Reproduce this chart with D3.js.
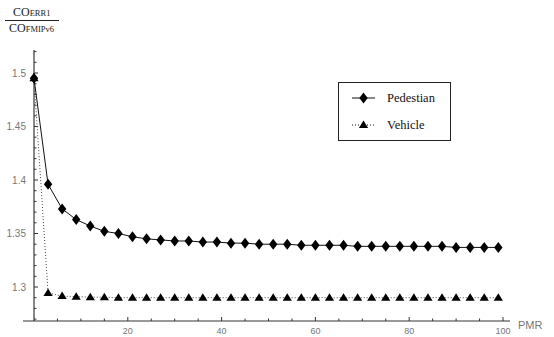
<!DOCTYPE html>
<html>
<head>
<meta charset="utf-8">
<script src="https://cdn.jsdelivr.net/npm/d3@7"></script>
<style>
  body { margin: 0; background: #fff; }
  svg { display: block; }
</style>
</head>
<body>
<div id="chart"></div>
<script>
// PMR sample points
const pmr = [0, 3, 6, 9, 12, 15, 18, 21, 24, 27, 30, 33, 36, 39, 42, 45, 48, 51, 54, 57,
             60, 63, 66, 69, 72, 75, 78, 81, 84, 87, 90, 93, 96, 99];
const pedestrian = [1.495, 1.396, 1.373, 1.363, 1.357, 1.352, 1.350, 1.347, 1.345, 1.344,
                    1.343, 1.343, 1.342, 1.342, 1.341, 1.341, 1.340, 1.340, 1.340, 1.339,
                    1.339, 1.339, 1.339, 1.338, 1.338, 1.338, 1.338, 1.338, 1.338, 1.338,
                    1.337, 1.337, 1.337, 1.337];
const vehicle = [1.495, 1.2945, 1.2915, 1.291, 1.2905, 1.2905, 1.290, 1.290, 1.290, 1.290,
                 1.290, 1.290, 1.290, 1.290, 1.290, 1.290, 1.290, 1.290, 1.290, 1.290,
                 1.290, 1.290, 1.290, 1.290, 1.290, 1.290, 1.290, 1.290, 1.290, 1.290,
                 1.290, 1.290, 1.290, 1.290];
const xTicks = [20, 40, 60, 80, 100];
const yTicks = [1.3, 1.35, 1.4, 1.45, 1.5];
const seriesNames = ["Pedestian", "Vehicle"];

const width = 554, height = 337;

const svg = d3.select('#chart').append('svg')
    .attr('width', width)
    .attr('height', height);

const x = d3.scaleLinear().domain([0, 100]).range([34, 503]);
const y = d3.scaleLinear().domain([1.3, 1.5]).range([287, 73]);

const axisY = 321;
const axisX = x(0);

// x axis
svg.append('line')
    .attr('x1', 23).attr('x2', 510)
    .attr('y1', axisY).attr('y2', axisY)
    .attr('stroke', '#777').attr('stroke-width', 1.5);

d3.range(5, 101, 5).forEach(v => {
    const major = v % 20 === 0;
    svg.append('line')
        .attr('x1', x(v)).attr('x2', x(v))
        .attr('y1', axisY).attr('y2', axisY - (major ? 4 : 2.5))
        .attr('stroke', '#333').attr('stroke-width', 1);
});

svg.selectAll('.xlab').data(xTicks).join('text')
    .attr('class', 'xlab')
    .attr('x', d => x(d))
    .attr('y', 334)
    .attr('text-anchor', 'middle')
    .attr('font-family', 'Liberation Sans, Arial, sans-serif')
    .attr('font-size', 9)
    .attr('fill', '#777')
    .text(d => d);

svg.append('text')
    .attr('x', 518).attr('y', 329)
    .attr('font-family', 'Liberation Sans, Arial, sans-serif')
    .attr('font-size', 11)
    .attr('fill', '#777')
    .text('PMR');

// y axis
svg.append('line')
    .attr('x1', axisX).attr('x2', axisX)
    .attr('y1', 50).attr('y2', axisY)
    .attr('stroke', '#111').attr('stroke-width', 1);

d3.range(1.27, 1.521, 0.01).forEach(v => {
    const major = Math.abs(Math.round(v * 100) % 5) === 0;
    svg.append('line')
        .attr('x1', axisX).attr('x2', axisX + (major ? 4 : 2.5))
        .attr('y1', y(v)).attr('y2', y(v))
        .attr('stroke', '#333').attr('stroke-width', 1);
});

svg.selectAll('.ylab').data(yTicks).join('text')
    .attr('class', 'ylab')
    .attr('x', 26)
    .attr('y', d => y(d) + 3.5)
    .attr('text-anchor', 'end')
    .attr('font-family', 'Liberation Sans, Arial, sans-serif')
    .attr('font-size', 10)
    .attr('fill', '#777')
    .text(d => d);

// y axis title (fraction)
const serif = 'Liberation Serif, Times New Roman, serif';
const num = svg.append('text').attr('x', 13).attr('y', 16)
    .attr('font-family', serif).attr('fill', '#222');
num.append('tspan').attr('font-size', 12).text('CO');
num.append('tspan').attr('font-size', 8.5).text('ERR1');
svg.append('line')
    .attr('x1', 5).attr('x2', 59).attr('y1', 20.5).attr('y2', 20.5)
    .attr('stroke', '#222').attr('stroke-width', 1);
const den = svg.append('text').attr('x', 9).attr('y', 32)
    .attr('font-family', serif).attr('fill', '#222');
den.append('tspan').attr('font-size', 12).text('CO');
den.append('tspan').attr('font-size', 8.5).text('FMIPv6');

// markers
const diamond = 'M0,-5.5L4.2,0L0,5.5L-4.2,0Z';
const triangle = 'M0,-4.5L4.6,3L-4.6,3Z';

const ped = pmr.map((d, i) => [d, pedestrian[i]]);
const veh = pmr.map((d, i) => [d, vehicle[i]]);
const line = d3.line().x(d => x(d[0])).y(d => y(d[1]));

svg.append('path')
    .attr('d', line(veh))
    .attr('fill', 'none')
    .attr('stroke', '#444')
    .attr('stroke-width', 1)
    .attr('stroke-dasharray', '1,2');

svg.append('path')
    .attr('d', line(ped))
    .attr('fill', 'none')
    .attr('stroke', '#111')
    .attr('stroke-width', 1);

svg.selectAll('.vmark').data(veh).join('path')
    .attr('class', 'vmark')
    .attr('d', triangle)
    .attr('transform', d => `translate(${x(d[0])},${y(d[1])})`)
    .attr('fill', '#000');

svg.selectAll('.pmark').data(ped).join('path')
    .attr('class', 'pmark')
    .attr('d', diamond)
    .attr('transform', d => `translate(${x(d[0])},${y(d[1])})`)
    .attr('fill', '#000');

// legend
const lg = svg.append('g');
lg.append('rect')
    .attr('x', 338.5).attr('y', 82.5).attr('width', 112).attr('height', 58)
    .attr('fill', '#fff').attr('stroke', '#222').attr('stroke-width', 1);

const rows = [{ name: seriesNames[0], y: 98, mark: diamond, dash: null },
              { name: seriesNames[1], y: 125, mark: triangle, dash: '1,2' }];
rows.forEach(r => {
    lg.append('line')
        .attr('x1', 352).attr('x2', 375).attr('y1', r.y).attr('y2', r.y)
        .attr('stroke', '#111').attr('stroke-width', 1)
        .attr('stroke-dasharray', r.dash);
    lg.append('path').attr('d', r.mark)
        .attr('transform', `translate(363.5,${r.y})`).attr('fill', '#000');
    lg.append('text')
        .attr('x', 387).attr('y', r.y + 4)
        .attr('font-family', serif).attr('font-size', 12.5)
        .attr('fill', '#111')
        .text(r.name);
});
</script>
</body>
</html>
